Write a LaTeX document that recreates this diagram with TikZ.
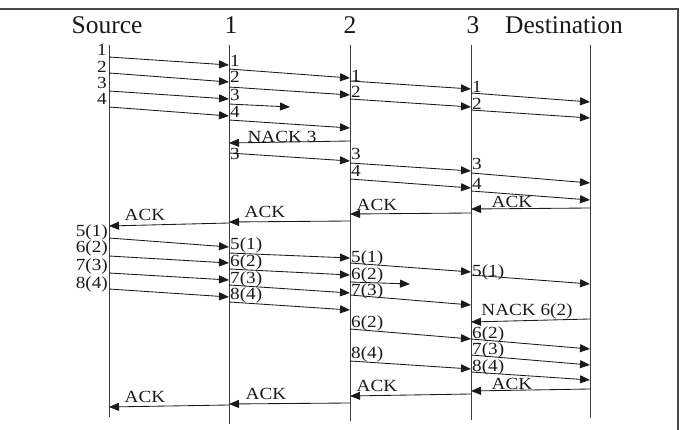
\documentclass[tikz,border=0pt]{standalone}
\usepackage{fontspec}
\usepackage{graphicx}
\setmainfont{Liberation Serif}
\usetikzlibrary{arrows.meta}
\definecolor{ink}{HTML}{1A1A1A}
\newcommand\mymsg[5]{%
  \coordinate (#1s) at (#2,#3);
  \coordinate (#1e) at (#4,#5);
  \draw[msgline] (#1s) -- (#1e);}
\newcommand\wide[1]{\scalebox{1.13}[1]{#1}}
\newcommand\labR[4]{\node[lab,anchor=base west] (#1) at (#2,#3) {\wide{#4}};}
\newcommand\labL[4]{\node[lab,anchor=base east] (#1) at (#2,#3) {\wide{#4}};}
\newcommand\labC[4]{\node[lab,anchor=base] (#1) at (#2,#3) {\wide{#4}};}
\begin{document}
\begin{tikzpicture}[x=1pt,y=-1pt,
  msgline/.style={draw=ink,line width=0.85pt,-{Triangle[length=10pt,width=8pt]}},
  life/.style={draw=ink!85,line width=0.9pt},
  lab/.style={inner sep=0pt,text=ink,font=\fontsize{17}{17}\selectfont},
  head/.style={inner sep=0pt,text=ink,anchor=base,font=\fontsize{25.5}{26}\selectfont},
  frame/.style={draw=ink!80,line width=1.3pt}]
\useasboundingbox (0,0) rectangle (681,430);
% frame
\coordinate (fl) at (0,9);
\coordinate (fc) at (678,9);
\coordinate (fb) at (678,430);
\draw[frame] (fl) -- (fc) -- (fb);
% headers
\node[head] (src) at (107,34) {Source};
\node[head] (h1) at (231,34) {1};
\node[head] (h2) at (350,34) {2};
\node[head] (h3) at (473,34) {3};
\node[head] (dst) at (564,34) {Destination};
% lifelines
\coordinate (Lst) at (109,45); \coordinate (Lsb) at (109,417);
\coordinate (L1t) at (229,45); \coordinate (L1b) at (229,424);
\coordinate (L2t) at (350,45); \coordinate (L2b) at (350,421);
\coordinate (L3t) at (471,45); \coordinate (L3b) at (471,420);
\coordinate (Ldt) at (590,45); \coordinate (Ldb) at (590,418);
\draw[life] (Lst) -- (Lsb);
\draw[life] (L1t) -- (L1b);
\draw[life] (L2t) -- (L2b);
\draw[life] (L3t) -- (L3b);
\draw[life] (Ldt) -- (Ldb);
% ---- first round ----
\labL{sa1}{107}{56}{1}\labL{sa2}{107}{73}{2}\labL{sa3}{107}{89}{3}\labL{sa4}{107}{105}{4}
\mymsg{a1}{109}{57}{229}{65}
\mymsg{a2}{109}{73}{229}{82}
\mymsg{a3}{109}{91}{229}{99}
\mymsg{a4}{109}{107}{229}{116}
\labR{ra1}{230}{67}{1}\labR{ra2}{230}{83}{2}\labR{ra3}{230}{101}{3}\labR{ra4}{230}{118}{4}
\mymsg{b1}{229}{69}{350}{78}
\mymsg{b2}{229}{87}{350}{95}
\mymsg{b3}{229}{104}{290}{107}
\mymsg{b4}{229}{120}{350}{128}
\mymsg{nk3}{350}{141}{229}{143}
\labC{nack3}{282}{143}{NACK 3}
\labR{rb3}{230}{160}{3}
\mymsg{b5}{229}{153}{350}{161}
\labR{rc1}{351}{82}{1}\labR{rc2}{351}{98}{2}\labR{rc3}{351}{160}{3}\labR{rc4}{351}{177}{4}
\mymsg{c1}{350}{81}{471}{89}
\mymsg{c2}{350}{99}{471}{107}
\mymsg{c3}{350}{163}{471}{171}
\mymsg{c4}{350}{179}{471}{188}
\labR{rd1}{472}{93}{1}\labR{rd2}{472}{110}{2}\labR{rd3}{472}{170}{3}\labR{rd4}{472}{190}{4}
\mymsg{d1}{471}{93}{590}{102}
\mymsg{d2}{471}{110}{590}{118}
\mymsg{d3}{471}{173}{590}{183}
\mymsg{d4}{471}{191}{590}{200}
% acks
\mymsg{k1}{590}{208}{471}{209}
\labC{ack1}{512}{208}{ACK}
\mymsg{k2}{471}{213}{350}{214}
\labC{ack2}{377}{211}{ACK}
\mymsg{k3}{350}{221}{229}{222}
\labC{ack3}{265}{218}{ACK}
\mymsg{k4}{229}{223}{109}{226}
\labC{ack4}{145}{221}{ACK}
% ---- second round ----
\labL{se1}{108}{237}{5(1)}\labL{se2}{108}{253}{6(2)}\labL{se3}{108}{271}{7(3)}\labL{se4}{108}{289}{8(4)}
\mymsg{e1}{109}{238}{229}{247}
\mymsg{e2}{109}{256}{229}{263}
\mymsg{e3}{109}{273}{229}{280}
\mymsg{e4}{109}{289}{229}{297}
\labR{rf1}{230}{250}{5(1)}\labR{rf2}{230}{267}{6(2)}\labR{rf3}{230}{284}{7(3)}\labR{rf4}{230}{300}{8(4)}
\mymsg{f1}{229}{253}{350}{258}
\mymsg{f2}{229}{269}{350}{275}
\mymsg{f3}{229}{285}{350}{293}
\mymsg{f4}{229}{302}{350}{310}
\labR{rg1}{351}{263}{5(1)}\labR{rg2}{351}{280}{6(2)}\labR{rg3}{351}{296}{7(3)}
\mymsg{g1}{350}{263}{471}{272}
\mymsg{g2}{350}{282}{410}{284}
\mymsg{g3}{350}{295}{471}{305}
\labR{rh1}{472}{277}{5(1)}
\mymsg{h1}{471}{275}{590}{284}
\mymsg{nk6}{590}{319}{471}{322}
\labC{nack6}{527}{316}{NACK 6(2)}
\labR{rg4}{351}{328}{6(2)}\labR{rg5}{351}{359}{8(4)}
\mymsg{g4}{350}{329}{471}{339}
\mymsg{g5}{350}{361}{471}{369}
\labR{rh2}{472}{339}{6(2)}\labR{rh3}{472}{355}{7(3)}\labR{rh4}{472}{372}{8(4)}
\mymsg{h2}{471}{339}{590}{349}
\mymsg{h3}{471}{355}{590}{365}
\mymsg{h4}{471}{372}{590}{380}
% final acks
\mymsg{m1}{590}{389}{471}{391}
\labC{ack5}{512}{390}{ACK}
\mymsg{m2}{471}{394}{350}{396}
\labC{ack6}{377}{392}{ACK}
\mymsg{m3}{350}{403}{229}{404}
\labC{ack7}{266}{400}{ACK}
\mymsg{m4}{229}{405}{109}{407}
\labC{ack8}{145}{403}{ACK}
\end{tikzpicture}
\end{document}
